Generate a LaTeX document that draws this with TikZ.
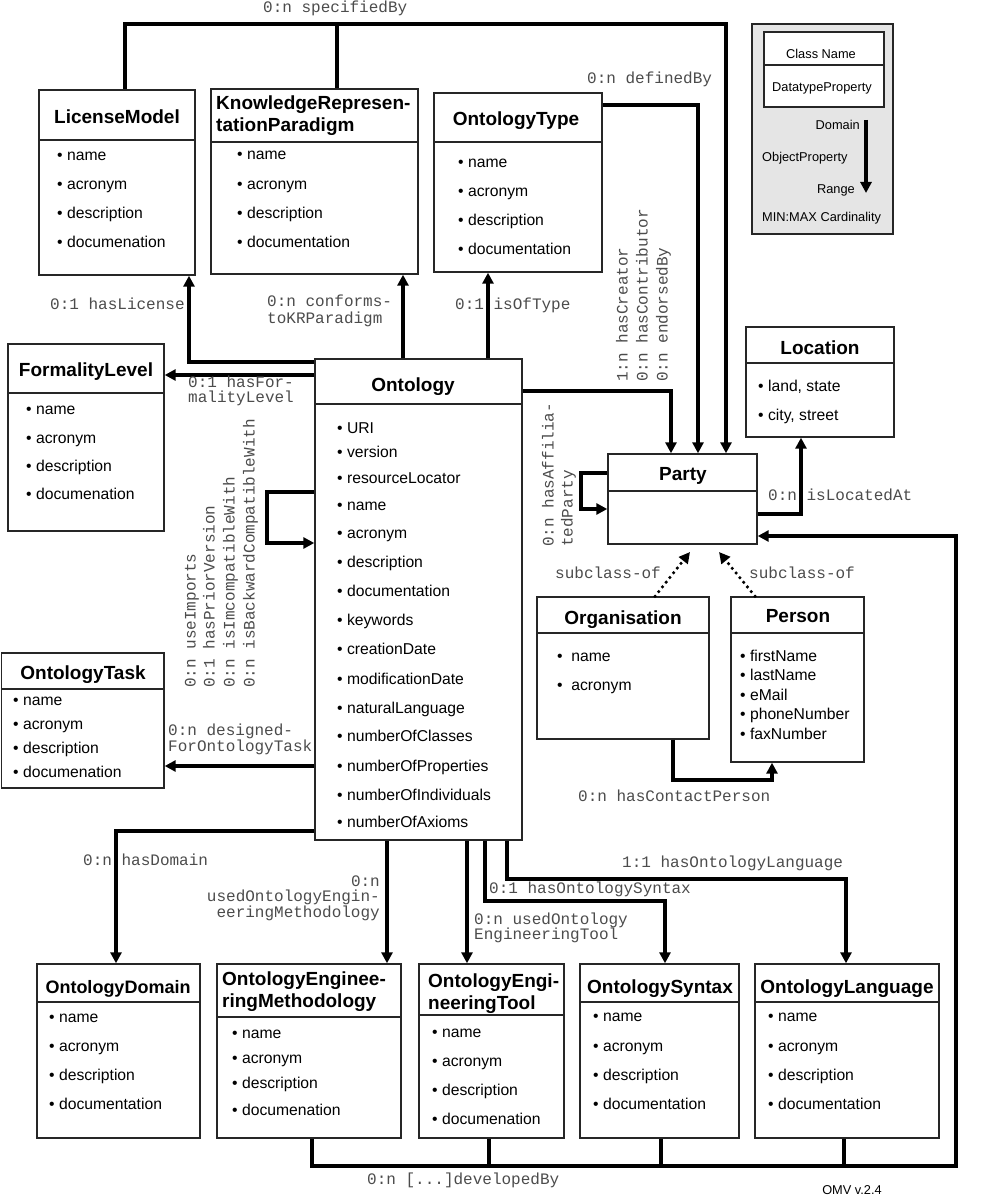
\documentclass[tikz,border=0pt]{standalone}
\usepackage{fontspec}
\setmainfont{Liberation Sans}
\setmonofont{Liberation Mono}
\usetikzlibrary{arrows.meta,fit}

% class box: name, x1, y1, x2, y2, y of separator
\newcommand\clsbox[6]{%
  \path (#2,#3) coordinate (#1-nw) (#4,#5) coordinate (#1-se);
  \node[cls, fit=(#1-nw)(#1-se)] (#1) {};
  \draw[sepline] (#1.west |- 0,#6) -- (#1.east |- 0,#6);
}

\begin{document}
\begin{tikzpicture}[x=1pt,y=-1pt,
  cls/.style={draw=black!85, line width=1.4pt, fill=white, inner sep=0pt, rectangle},
  sepline/.style={draw=black!85, line width=1.4pt},
  title/.style={font=\bfseries\fontsize{19}{22}\selectfont, inner sep=0pt, anchor=base},
  ttltwo/.style={title, anchor=base west},
  attr/.style={font=\fontsize{15.7}{18}\selectfont, inner sep=0pt, anchor=mid west},
  lbl/.style={font=\ttfamily\fontsize{16}{16}\selectfont, text=black!70, inner sep=0pt, anchor=mid west},
  lblr/.style={lbl, anchor=mid east},
  vlbl/.style={lbl, rotate=90},
  conn/.style={line width=3.6pt, draw=black},
  arr/.style={conn, -{Triangle[length=11pt,width=11pt]}},
  dots/.style={line width=3.6pt, dash pattern=on 0pt off 6pt, line cap=round, -{Triangle[length=11pt,width=11pt]}},
  leg/.style={font=\fontsize{12.8}{14}\selectfont, inner sep=0pt},
  legbox/.style={draw=black!85, line width=1.4pt, fill=gray!20, inner sep=0pt, rectangle}
]
\useasboundingbox[fill=white] (0,0) rectangle (1000,1198);

% ---------- legend ----------
\path (752,24) coordinate (lg-nw) (893,234) coordinate (lg-se);
\node[legbox, fit=(lg-nw)(lg-se)] (legend) {};
\clsbox{leginner}{764}{32}{884}{107}{65}
\node[leg, anchor=base] (lg-cn) at (821,58.5) {Class Name};
\node[leg, anchor=base] (lg-dp) at (822,92) {DatatypeProperty};
\node[leg, anchor=base east] (lg-dom) at (860,130) {Domain};
\node[leg, anchor=base west] (lg-op) at (762,162) {ObjectProperty};
\node[leg, anchor=base east] (lg-rng) at (855,194) {Range};
\node[leg, anchor=base west] (lg-mm) at (762,222) {MIN:MAX Cardinality};
\coordinate (legA) at (866,120);
\coordinate (legB) at (866,193);
\draw[arr] (legA) -- (legB);

% ---------- classes ----------
\clsbox{lic}{39}{90}{195}{275}{140}
\node[title] (lic-t) at (117,124) {LicenseModel};
\foreach \t/\yy [count=\i] in {name/158, acronym/187, description/216, documenation/245}
  \node[attr] (lic-a\i) at (57,\yy) {• \t};

\clsbox{krp}{211}{89}{418}{274}{142}
\node[ttltwo] (krp-t1) at (216,110) {KnowledgeRepresen-};
\node[ttltwo] (krp-t2) at (216,132) {tationParadigm};
\foreach \t/\yy [count=\i] in {name/157, acronym/187, description/216, documentation/245}
  \node[attr] (krp-a\i) at (237,\yy) {• \t};

\clsbox{otype}{434}{93}{602}{272}{142}
\node[title] (otype-t) at (516,126) {OntologyType};
\foreach \t/\yy [count=\i] in {name/165, acronym/194, description/223, documentation/252}
  \node[attr] (otype-a\i) at (458,\yy) {• \t};

\clsbox{form}{8}{344}{164}{531}{393}
\node[title] (form-t) at (86,376) {FormalityLevel};
\foreach \t/\yy [count=\i] in {name/412, acronym/441, description/469, documenation/497}
  \node[attr] (form-a\i) at (26,\yy) {• \t};

\clsbox{ont}{315}{359}{522}{840}{404}
\node[title] (ont-t) at (413,391) {Ontology};
\foreach \t/\yy [count=\i] in {URI/431, version/455, resourceLocator/481, name/508, acronym/536,
   description/565, documentation/594, keywords/623, creationDate/652, modificationDate/682,
   naturalLanguage/711, numberOfClasses/739, numberOfProperties/769, numberOfIndividuals/798,
   numberOfAxioms/825}
  \node[attr] (ont-a\i) at (337,\yy) {• \t};

\clsbox{task}{1.5}{653}{164}{788}{689}
\node[title] (task-t) at (83,679) {OntologyTask};
\foreach \t/\yy [count=\i] in {name/703, acronym/727, description/751, documenation/775}
  \node[attr] (task-a\i) at (13,\yy) {• \t};

\clsbox{loc}{746}{327}{894}{437}{363}
\node[title] (loc-t) at (820,354) {Location};
\node[attr] (loc-a1) at (758,389) {• land, state};
\node[attr] (loc-a2) at (758,418) {• city, street};

\clsbox{party}{608}{454}{757}{544}{491}
\node[title] (party-t) at (683,480) {Party};

\clsbox{org}{537}{597}{709}{739}{633}
\node[title] (org-t) at (623,624) {Organisation};
\foreach \t/\yy [count=\i] in {name/659, acronym/688}
  \node[attr] (org-a\i) at (557,\yy) {•\ \ \t};

\clsbox{pers}{731}{597}{864}{762}{633}
\node[title] (pers-t) at (798,622) {Person};
\foreach \t/\yy [count=\i] in {firstName/659, lastName/678, eMail/698, phoneNumber/717, faxNumber/737}
  \node[attr] (pers-a\i) at (740,\yy) {• \t};

\clsbox{dom}{37}{964}{200}{1138}{1002}
\node[title, font=\bfseries\fontsize{18}{22}\selectfont] (dom-t) at (118,993) {OntologyDomain};
\foreach \t/\yy [count=\i] in {name/1020, acronym/1049, description/1078, documentation/1107}
  \node[attr] (dom-a\i) at (49,\yy) {• \t};

\clsbox{oem}{217}{964}{401}{1138}{1017}
\node[ttltwo] (oem-t1) at (222,985) {OntologyEnginee-};
\node[ttltwo] (oem-t2) at (222,1007) {ringMethodology};
\foreach \t/\yy [count=\i] in {name/1036, acronym/1061, description/1086, documenation/1113}
  \node[attr] (oem-a\i) at (232,\yy) {• \t};

\clsbox{oet}{419}{964}{564}{1138}{1015}
\node[ttltwo] (oet-t1) at (428,987) {OntologyEngi-};
\node[ttltwo] (oet-t2) at (428,1009) {neeringTool};
\foreach \t/\yy [count=\i] in {name/1035, acronym/1064, description/1093, documenation/1122}
  \node[attr] (oet-a\i) at (432,\yy) {• \t};

\clsbox{osyn}{580}{964}{739}{1138}{1002}
\node[title] (osyn-t) at (660,993) {OntologySyntax};
\foreach \t/\yy [count=\i] in {name/1019, acronym/1049, description/1078, documentation/1107}
  \node[attr] (osyn-a\i) at (593,\yy) {• \t};

\clsbox{olang}{755}{964}{939}{1138}{1002}
\node[title] (olang-t) at (847,993) {OntologyLanguage};
\foreach \t/\yy [count=\i] in {name/1019, acronym/1049, description/1078, documentation/1107}
  \node[attr] (olang-a\i) at (768,\yy) {• \t};

% ---------- connectors ----------
\draw[arr] (lic.north -| 125,0) -- (125,24) -| (party.north -| 726,0);
\draw[conn] (krp.north -| 337,0) -- (337,24);
\draw[arr] (otype.east |- 0,105) -| (party.north -| 698,0);
\draw[arr] (ont.east |- 0,391) -| (party.north -| 671,0);
\draw[arr] (ont.west |- 0,362) -| (lic.south -| 189,0);
\draw[arr] (ont.west |- 0,375) -- (form.east |- 0,375);
\draw[arr] (ont.north -| 403,0) -- (krp.south -| 403,0);
\draw[arr] (ont.north -| 488,0) -- (otype.south -| 488,0);
\draw[arr] (ont.west |- 0,492) -- (267,492) -- (267,543) -- (ont.west |- 0,543);
\draw[arr] (ont.west |- 0,766) -- (task.east |- 0,766);
\draw[arr] (ont.west |- 0,831) -| (dom.north -| 116,0);
\draw[arr] (ont.south -| 387,0) -- (oem.north -| 387,0);
\draw[arr] (ont.south -| 467,0) -- (oet.north -| 467,0);
\draw[arr] (ont.south -| 485,0) |- (665,901) -- (osyn.north -| 665,0);
\draw[arr] (ont.south -| 507,0) |- (846,879) -- (olang.north -| 846,0);
\draw[arr] (party.west |- 0,473) -- (581,473) -- (581,509) -- (party.west |- 0,509);
\draw[arr] (party.east |- 0,514) -| (loc.south -| 801,0);
\coordinate (pa1) at (690,552);
\coordinate (pa2) at (719,552);
\draw[dots] (org.north -| 655,0) -- (pa1);
\draw[dots] (pers.north -| 755,0) -- (pa2);
\draw[arr] (org.south -| 673,0) -- (673,780) -| (pers.south -| 772,0);
\draw[arr] (oem.south -| 312,0) |- (956,1166) |- (party.east |- 0,536);
\draw[conn] (oet.south -| 489,0) -- (489,1166);
\draw[conn] (osyn.south -| 661,0) -- (661,1166);
\draw[conn] (olang.south -| 844,0) -- (844,1166);

% ---------- labels ----------
\node[lbl] (l-spec) at (263,10) {0:n specifiedBy};
\node[lbl] (l-def) at (587,81) {0:n definedBy};
\node[lbl] (l-lic) at (50,307) {0:1 hasLicense};
\node[lbl] (l-krp1) at (267,304) {0:n conforms-};
\node[lbl] (l-krp2) at (267,321) {toKRParadigm};
\node[lbl] (l-type) at (455,307) {0:1 isOfType};
\node[vlbl] (l-cre) at (625,382) {1:n hasCreator};
\node[vlbl] (l-con) at (645,382) {0:n hasContributor};
\node[vlbl] (l-end) at (665,382) {0:n endorsedBy};
\node[lbl] (l-form1) at (188,385) {0:1 hasFor-};
\node[lbl] (l-form2) at (188,400) {malityLevel};
\node[vlbl] (l-imp) at (193,688) {0:n useImports};
\node[vlbl] (l-pri) at (212,688) {0:1 hasPriorVersion};
\node[vlbl] (l-inc) at (232,688) {0:n isImcompatibleWith};
\node[vlbl] (l-bac) at (252,688) {0:n isBackwardCompatibleWith};
\node[lbl] (l-task1) at (168,733) {0:n designed-};
\node[lbl] (l-task2) at (168,749) {ForOntologyTask};
\node[vlbl] (l-aff1) at (551,547) {0:n hasAffilia-};
\node[vlbl] (l-aff2) at (570,547) {tedParty};
\node[lbl] (l-loc) at (768,498) {0:n isLocatedAt};
\node[lbl] (l-sub1) at (555,576) {subclass-of};
\node[lbl] (l-sub2) at (749,576) {subclass-of};
\node[lbl] (l-cp) at (578,799) {0:n hasContactPerson};
\node[lbl] (l-dom) at (83,863) {0:n hasDomain};
\node[lblr] (l-oem1) at (380,884) {0:n};
\node[lblr] (l-oem2) at (380,899) {usedOntologyEngin-};
\node[lblr] (l-oem3) at (380,915) {eeringMethodology};
\node[lbl] (l-oet1) at (474,922) {0:n usedOntology};
\node[lbl] (l-oet2) at (474,937) {EngineeringTool};
\node[lbl] (l-syn) at (489,891) {0:1 hasOntologySyntax};
\node[lbl] (l-lang) at (622,865) {1:1 hasOntologyLanguage};
\node[lbl] (l-dev) at (367,1182) {0:n [...]developedBy};
\node[leg, anchor=base] (omv) at (852,1194) {OMV v.2.4};
\end{tikzpicture}
\end{document}
